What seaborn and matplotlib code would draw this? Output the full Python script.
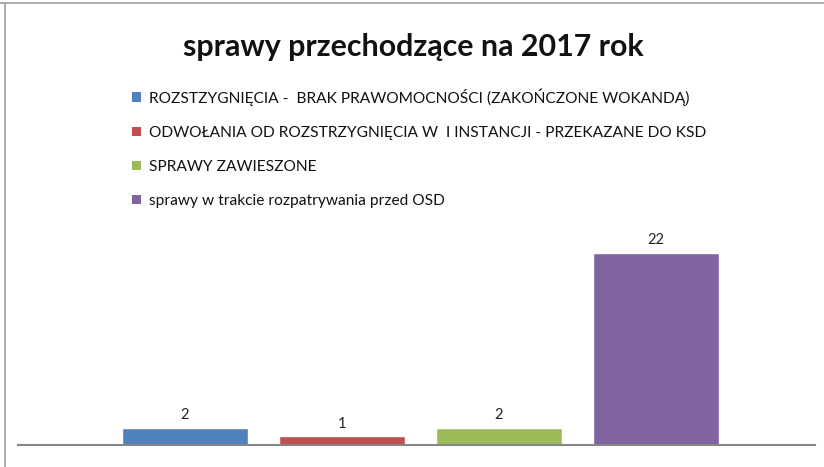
import matplotlib
matplotlib.use("Agg")
import matplotlib.pyplot as plt
from matplotlib.patches import Patch
from matplotlib.lines import Line2D
import seaborn as sns

# --- data ---
categories = [
    "ROZSTZYGNIĘCIA -  BRAK PRAWOMOCNOŚCI (ZAKOŃCZONE WOKANDĄ)",
    "ODWOŁANIA OD ROZSTRZYGNIĘCIA W  I INSTANCJI - PRZEKAZANE DO KSD",
    "SPRAWY ZAWIESZONE",
    "sprawy w trakcie rozpatrywania przed OSD",
]
values = [2, 1, 2, 22]
colors = ["#4F81BD", "#C0504D", "#9BBB59", "#8064A2"]
title = "sprawy przechodzące na 2017 rok"

sns.set_theme(style="white")
plt.rcParams["font.family"] = ["Lato", "DejaVu Sans"]

W, H = 824, 467
fig = plt.figure(figsize=(W / 100, H / 100), dpi=100)
ax = fig.add_axes([18 / W, (H - 445) / H, (815 - 18) / W, (445 - 225) / H])

sns.barplot(x=categories, y=values, hue=categories, palette=colors,
            width=0.8, legend=False, saturation=1, ax=ax)

ax.set_xlim(-1.064, 4.013)
ax.set_ylim(0, 25.2)
ax.set_xticks([])
ax.set_yticks([])
ax.set_xlabel("")
ax.set_ylabel("")
for side in ["top", "right", "left"]:
    ax.spines[side].set_visible(False)
ax.spines["bottom"].set_color("#868686")
ax.spines["bottom"].set_linewidth(1.5)

for cont in ax.containers:
    ax.bar_label(cont, padding=4, fontsize=10.5, color="#222222")

# title
fig.text(413 / W, 1 - 47 / H, title, ha="center", va="center",
         fontsize=21.9, fontweight="bold", color="#111111")

# legend
handles = [Patch(facecolor=c, edgecolor="none") for c in colors]
fig.legend(handles, categories, loc="upper left",
           bbox_to_anchor=(118 / W, 1 - 74 / H), frameon=False,
           fontsize=11.2, handlelength=0.55, handleheight=0.55,
           handletextpad=0.55, labelspacing=1.3, labelcolor="#111111")

# chart frame
fig.add_artist(Line2D([0, 1], [1 - 3 / H, 1 - 3 / H], transform=fig.transFigure,
                      color="#a0a0a0", linewidth=1.2))
fig.add_artist(Line2D([5 / W, 5 / W], [0, 1 - 3 / H], transform=fig.transFigure,
                      color="#a0a0a0", linewidth=1.2))

fig.savefig("out.png", dpi=100)
